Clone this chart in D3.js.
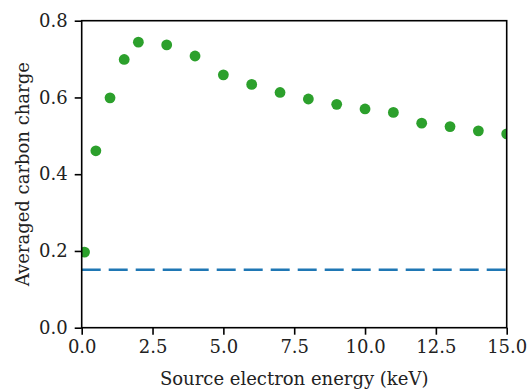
<!DOCTYPE html>
<html>
<head>
<meta charset="utf-8">
<script src="https://cdn.jsdelivr.net/npm/d3@7"></script>
<style>
  body { margin: 0; background: #fff; }
</style>
</head>
<body>
<svg id="chart"></svg>
<script>
const width = 527;
const height = 391;

// data
const energies = [0.1, 0.5, 1, 1.5, 2, 3, 4, 5, 6, 7, 8, 9, 10, 11, 12, 13, 14, 15];
const charges = [0.197, 0.461, 0.599, 0.699, 0.744, 0.737, 0.708, 0.659, 0.634, 0.613, 0.596, 0.582, 0.570, 0.561, 0.533, 0.524, 0.513, 0.505];
const baseline = 0.151;
const xTicks = [0, 2.5, 5, 7.5, 10, 12.5, 15];
const yTicks = [0, 0.2, 0.4, 0.6, 0.8];

const font = "DejaVu Serif";
const fontSize = 18;

const margin = { top: 20.7, right: 20.3, bottom: 63.3, left: 81.7 };
const w = width - margin.left - margin.right;
const h = height - margin.top - margin.bottom;

const svg = d3.select("#chart")
    .attr("width", width)
    .attr("height", height);

const x = d3.scaleLinear().domain([0, 15]).range([0, w]);
const y = d3.scaleLinear().domain([0, 0.8]).range([h, 0]);

const g = svg.append("g")
    .attr("transform", `translate(${margin.left},${margin.top})`);

g.append("clipPath").attr("id", "clip")
    .append("rect").attr("width", w).attr("height", h);

const plot = g.append("g").attr("clip-path", "url(#clip)");

// dashed reference line
plot.append("line")
    .attr("x1", x(0))
    .attr("x2", x(15))
    .attr("y1", y(baseline))
    .attr("y2", y(baseline))
    .attr("stroke", "#1f77b4")
    .attr("stroke-width", 2.6)
    .attr("stroke-dasharray", "19,8");

plot.selectAll("circle")
    .data(energies)
    .enter().append("circle")
    .attr("cx", d => x(d))
    .attr("cy", (d, i) => y(charges[i]))
    .attr("r", 5.4)
    .attr("fill", "#2ca02c");

const xAxis = g.append("g")
    .attr("transform", `translate(0,${h})`)
    .call(d3.axisBottom(x).tickValues(xTicks).tickSize(7).tickPadding(6)
        .tickFormat(d3.format(".1f")));

const yAxis = g.append("g")
    .call(d3.axisLeft(y).tickValues(yTicks).tickSize(7).tickPadding(7)
        .tickFormat(d3.format(".1f")));

[xAxis, yAxis].forEach(a => {
    a.attr("font-family", font).attr("font-size", fontSize);
    a.select(".domain").remove();
    a.selectAll("line").attr("stroke", "#000").attr("stroke-width", 1.6);
    a.selectAll("text").attr("fill", "#222");
});

// spines
g.append("rect")
    .attr("width", w)
    .attr("height", h)
    .attr("fill", "none")
    .attr("stroke", "#000")
    .attr("stroke-width", 1.6);

svg.append("text")
    .attr("x", margin.left + w / 2)
    .attr("y", 385)
    .attr("text-anchor", "middle")
    .attr("font-family", font)
    .attr("font-size", fontSize)
    .attr("fill", "#222")
    .text("Source electron energy (keV)");

svg.append("text")
    .attr("transform", `translate(28.5,${margin.top + h / 2}) rotate(-90)`)
    .attr("text-anchor", "middle")
    .attr("font-family", font)
    .attr("font-size", fontSize)
    .attr("fill", "#222")
    .text("Averaged carbon charge");
</script>
</body>
</html>
